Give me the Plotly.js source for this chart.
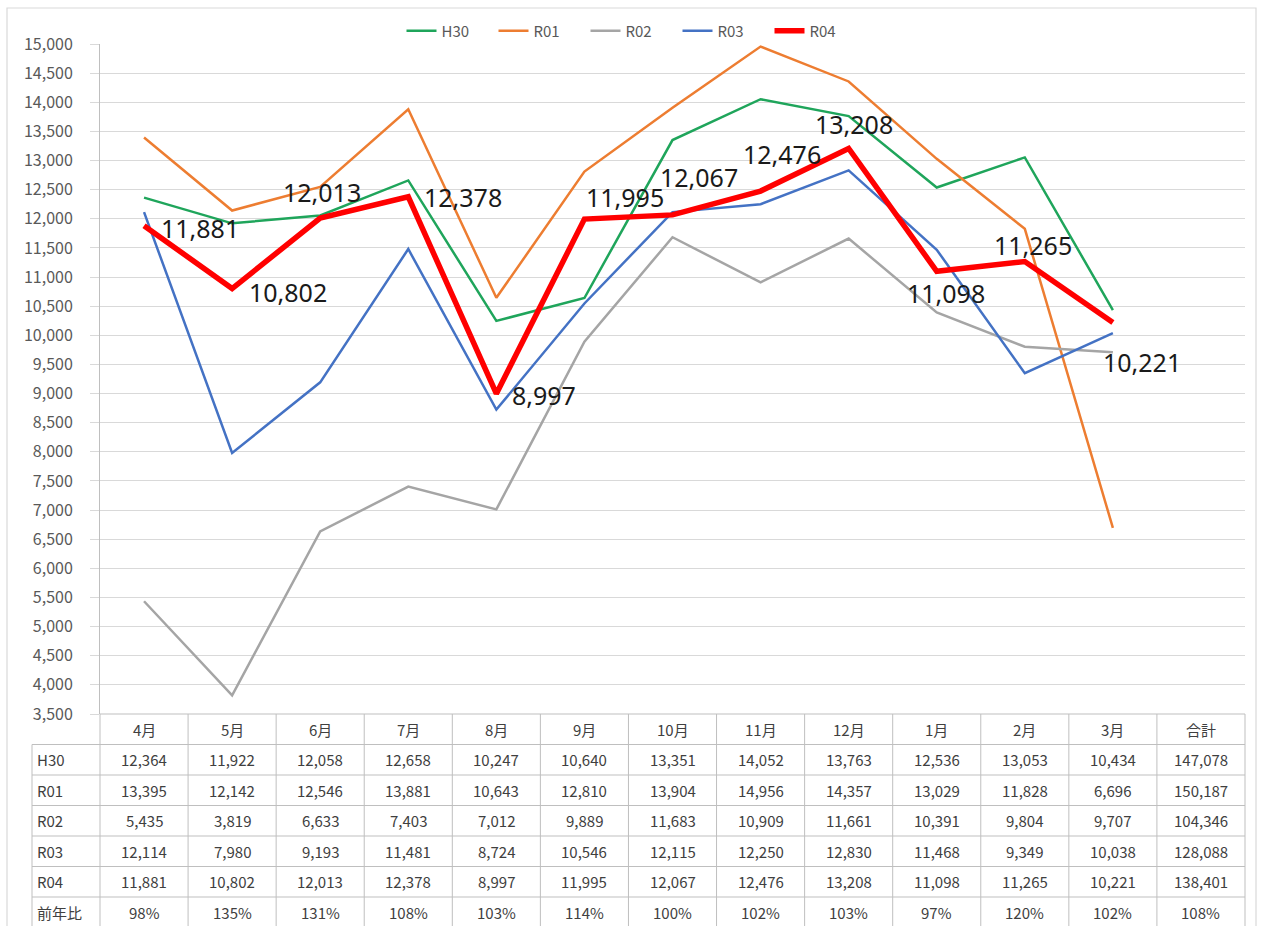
<!DOCTYPE html>
<html>
<head>
<meta charset="utf-8">
<script src="https://cdn.plot.ly/plotly-3.0.1.min.js"></script>
<style>html,body{margin:0;padding:0;background:#fff;}#chart{width:1263px;height:926px;}</style>
</head>
<body>
<div id="chart"></div>
<script>
// ---- data ----
const months = ['4月','5月','6月','7月','8月','9月','10月','11月','12月','1月','2月','3月'];
const totalLabel = '合計';
const seriesNames = ['H30','R01','R02','R03','R04'];
const H30 = [12364,11922,12058,12658,10247,10640,13351,14052,13763,12536,13053,10434];
const R01 = [13395,12142,12546,13881,10643,12810,13904,14956,14357,13029,11828,6696];
const R02 = [5435,3819,6633,7403,7012,9889,11683,10909,11661,10391,9804,9707];
const R03 = [12114,7980,9193,11481,8724,10546,12115,12250,12830,11468,9349,10038];
const R04 = [11881,10802,12013,12378,8997,11995,12067,12476,13208,11098,11265,10221];
const seriesTotals = [147078,150187,104346,128088,138401];
const ratioLabel = '前年比';
const ratioPct = [98,135,131,108,103,114,100,102,103,97,120,102,108];

// ---- styles / layout helpers ----
const seriesValues = [H30,R01,R02,R03,R04];
const seriesColors = ['#1FA55B','#ED7D31','#A5A5A5','#4472C4','#FF0000'];
const seriesWidths = [2.5,2.5,2.5,2.5,5.5];
// label offsets for R04 data labels (pixels; dx right, dy down)
const lblDx = [56,56,2,55,48,41,26,21,5,9,8,29];
const lblDy = [2,3,-26,0,1,-22,-38,-37,-24,22,-17,40];

const W = 1263, HH = 926;
const M = {l:100, r:18, t:44, b:0};
const plotW = W - M.l - M.r;
const plotH = HH - M.t - M.b;
const px2x = px => (px - M.l) / plotW;
const py2y = py => (HH - M.b - py) / plotH;
const tableTop = 714, rowH = 30.5;
const gridC = '#D9D9D9', tableC = '#BFBFBF', txtC = '#404040';
const fam = '"Noto Sans CJK JP", "Noto Sans", sans-serif';
const tblFont = {family: fam, size: 15, color: txtC};

const fmt = v => v.toLocaleString('en-US');

const traces = seriesNames.map((n, k) => ({
  type: 'scatter', mode: 'lines', name: n,
  x: months, y: seriesValues[k],
  line: {color: seriesColors[k], width: seriesWidths[k]},
  hoverinfo: 'skip'
}));

const annotations = [];
const shapes = [];
const cols = months.concat([totalLabel]);
const rowY = r => py2y(tableTop + rowH * (r + 0.5));

// header row
cols.forEach((c, i) => annotations.push({
  xref: 'x', yref: 'paper', x: i, y: rowY(0), text: c, showarrow: false,
  xanchor: 'center', yanchor: 'middle', font: tblFont
}));
// series rows
seriesNames.forEach((n, k) => {
  annotations.push({xref: 'paper', yref: 'paper', x: px2x(35), y: rowY(k + 1), text: n, showarrow: false,
    xanchor: 'left', yanchor: 'middle', font: tblFont});
  seriesValues[k].concat([seriesTotals[k]]).forEach((v, i) => annotations.push({
    xref: 'x', yref: 'paper', x: i, y: rowY(k + 1), text: fmt(v), showarrow: false,
    xanchor: 'center', yanchor: 'middle', font: tblFont
  }));
});
// ratio row
annotations.push({xref: 'paper', yref: 'paper', x: px2x(35), y: rowY(6), text: ratioLabel, showarrow: false,
  xanchor: 'left', yanchor: 'middle', font: tblFont});
ratioPct.forEach((v, i) => annotations.push({
  xref: 'x', yref: 'paper', x: i, y: rowY(6), text: v + '%', showarrow: false,
  xanchor: 'center', yanchor: 'middle', font: tblFont
}));

// R04 data labels
R04.forEach((v, i) => annotations.push({
  xref: 'x', yref: 'y', x: i, y: v, text: fmt(v), showarrow: false,
  xanchor: 'center', yanchor: 'middle', xshift: lblDx[i], yshift: -lblDy[i],
  font: {family: '"Noto Sans", sans-serif', size: 25, color: '#1a1a1a'}
}));

// table lines
const ln = {color: tableC, width: 1};
shapes.push({type: 'line', xref: 'paper', yref: 'paper', x0: px2x(100), x1: px2x(1245),
  y0: py2y(tableTop), y1: py2y(tableTop), line: ln});
for (let r = 1; r <= 6; r++) {
  shapes.push({type: 'line', xref: 'paper', yref: 'paper', x0: px2x(32), x1: px2x(1245),
    y0: py2y(tableTop + rowH * r), y1: py2y(tableTop + rowH * r), line: ln});
}
shapes.push({type: 'line', xref: 'paper', yref: 'paper', x0: px2x(32), x1: px2x(32),
  y0: py2y(tableTop + rowH), y1: py2y(HH + 5), line: ln});
shapes.push({type: 'line', xref: 'paper', yref: 'paper', x0: px2x(100), x1: px2x(100),
  y0: py2y(tableTop), y1: py2y(HH + 5), line: ln});
shapes.push({type: 'line', xref: 'paper', yref: 'paper', x0: px2x(1245), x1: px2x(1245),
  y0: py2y(tableTop), y1: py2y(HH + 5), line: ln});
for (let k = 1; k < cols.length; k++) {
  shapes.push({type: 'line', xref: 'x', yref: 'paper', x0: k - 0.5, x1: k - 0.5,
    y0: py2y(tableTop), y1: py2y(HH + 5), line: ln});
}
// outer chart border
shapes.push({type: 'rect', xref: 'paper', yref: 'paper', x0: px2x(7), x1: px2x(1256),
  y0: py2y(HH + 10), y1: py2y(8), line: {color: gridC, width: 1.2}, fillcolor: 'rgba(0,0,0,0)'});

const layout = {
  width: W, height: HH,
  margin: M,
  paper_bgcolor: '#fff', plot_bgcolor: '#fff',
  font: {family: fam, color: '#595959'},
  showlegend: true,
  legend: {orientation: 'h', x: px2x(631.5), xanchor: 'center', y: py2y(31), yanchor: 'middle',
    entrywidth: 47, entrywidthmode: 'pixels',
    font: {family: fam, size: 15, color: '#595959'}, bgcolor: 'rgba(0,0,0,0)', traceorder: 'normal'},
  xaxis: {type: 'category', categoryorder: 'array', categoryarray: cols, range: [-0.5, cols.length - 0.5],
    showgrid: false, showline: false, zeroline: false, showticklabels: false, ticks: '', fixedrange: true},
  yaxis: {domain: [py2y(tableTop), 1], range: [3500, 15000], dtick: 500, tick0: 0, tickformat: ',d',
    showgrid: true, gridcolor: gridC, gridwidth: 1, zeroline: false,
    showline: true, linecolor: tableC, linewidth: 1,
    ticks: 'outside', ticklen: 9, tickcolor: gridC, ticklabelstandoff: 14,
    tickfont: {family: fam, size: 16, color: '#595959'}, fixedrange: true},
  annotations: annotations,
  shapes: shapes
};

Plotly.newPlot('chart', traces, layout, {displayModeBar: false, staticPlot: true});
</script>
</body>
</html>
